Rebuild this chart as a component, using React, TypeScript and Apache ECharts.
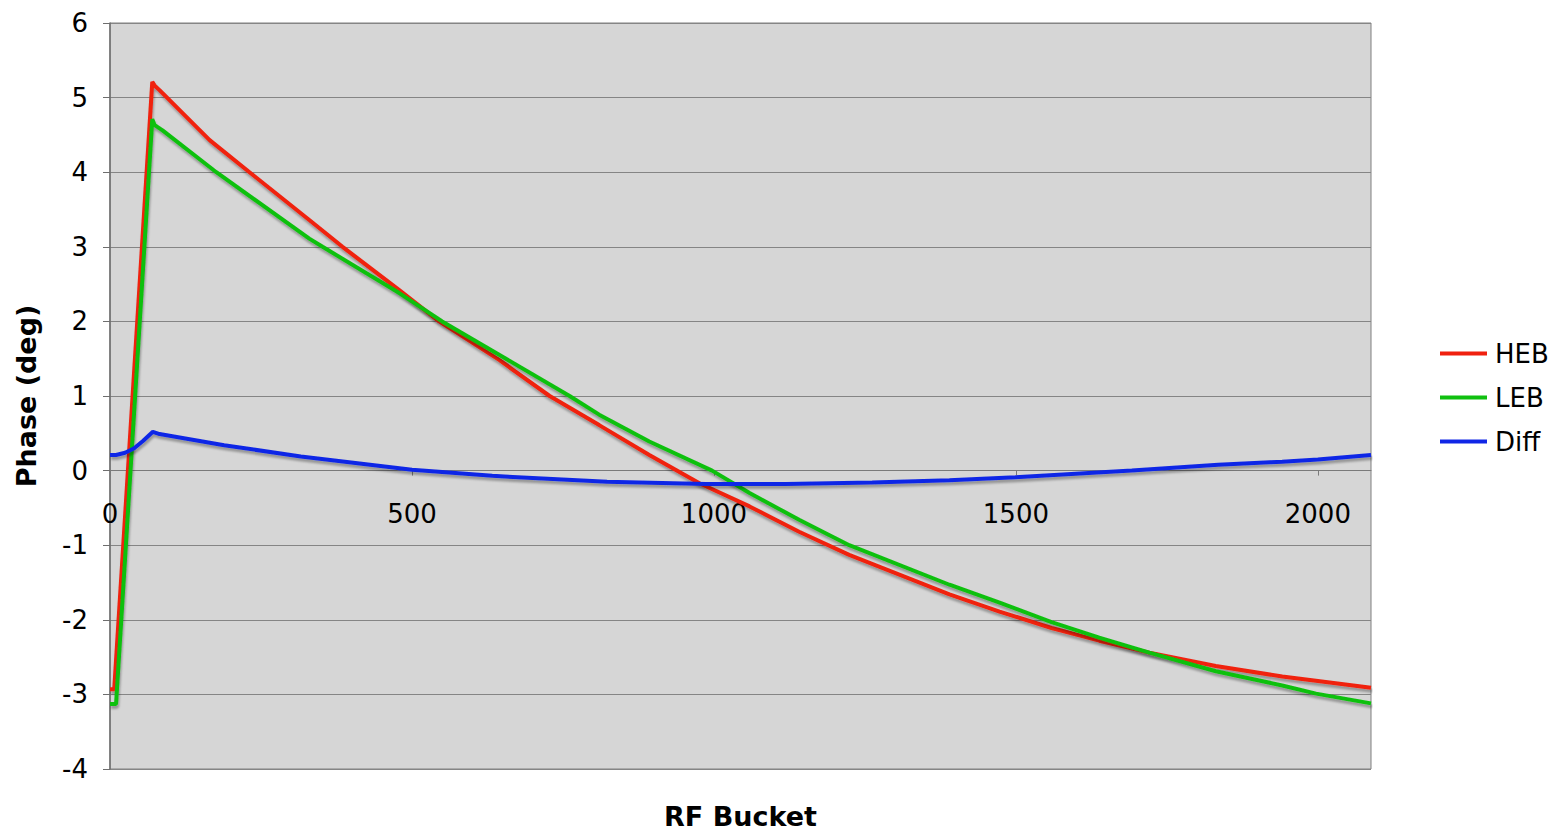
import React, { useEffect, useRef } from "react";
import * as echarts from "echarts";

const hebBuckets = [0, 7, 70, 74, 82, 165, 231, 330, 385, 479, 545, 645, 728, 810, 893, 976, 1059, 1141, 1224, 1390, 1473, 1559, 1638, 1721, 1831, 1941, 2000, 2088];
const hebValues = [-2.93, -2.93, 5.21, 5.16, 5.10, 4.43, 4.00, 3.36, 3.00, 2.42, 2.00, 1.48, 1.00, 0.61, 0.21, -0.17, -0.48, -0.82, -1.13, -1.66, -1.89, -2.11, -2.28, -2.44, -2.62, -2.76, -2.82, -2.91];

const lebBuckets = [0, 10, 70, 74, 87, 165, 176, 330, 352, 479, 550, 645, 761, 810, 893, 997, 1059, 1141, 1224, 1390, 1473, 1559, 1638, 1721, 1831, 1941, 1997, 2088];
const lebValues = [-3.13, -3.13, 4.71, 4.63, 4.56, 4.07, 4.00, 3.11, 3.00, 2.38, 2.00, 1.55, 1.00, 0.75, 0.39, 0.00, -0.30, -0.66, -1.00, -1.53, -1.77, -2.03, -2.24, -2.44, -2.69, -2.88, -2.99, -3.12];

const diffBuckets = [0, 10, 25, 40, 55, 71, 82, 189, 316, 500, 633, 823, 987, 1119, 1262, 1390, 1499, 1692, 1835, 1941, 2000, 2088];
const diffValues = [0.21, 0.21, 0.24, 0.30, 0.40, 0.52, 0.49, 0.34, 0.19, 0.01, -0.07, -0.15, -0.18, -0.18, -0.16, -0.13, -0.09, 0.00, 0.08, 0.12, 0.15, 0.21];

const seriesNames = ["HEB", "LEB", "Diff"];
const seriesColors = ["#f0200f", "#10c010", "#1026e6"];

const xMin = 0;
const xMax = 2088;
const xInterval = 500;
const yMin = -4;
const yMax = 6;
const yInterval = 1;

const FONT = "DejaVu Sans";

const GRID_TOP = 23;
const GRID_BOTTOM = 64;
const CHART_H = 833;

function pairs(xs: number[], ys: number[]) {
  return xs.map((x, i) => [x, ys[i]]);
}

export default function App() {
  const ref = useRef<HTMLDivElement>(null);
  useEffect(() => {
    if (!ref.current) return;
    const chart = echarts.init(ref.current, undefined, { renderer: "svg" });
    const datasets = [
      pairs(hebBuckets, hebValues),
      pairs(lebBuckets, lebValues),
      pairs(diffBuckets, diffValues),
    ];
    // shift the x axis from the bottom of the grid up to the y = 0 line
    const gridH = CHART_H - GRID_TOP - GRID_BOTTOM;
    const zeroFromBottom = (gridH * (0 - yMin)) / (yMax - yMin);
    chart.setOption({
      animation: false,
      backgroundColor: "#ffffff",
      textStyle: { fontFamily: FONT },
      grid: {
        left: 110,
        right: 184,
        top: GRID_TOP,
        bottom: GRID_BOTTOM,
        show: true,
        backgroundColor: "#d6d6d6",
        borderColor: "#808080",
        borderWidth: 1,
        containLabel: false,
        outerBoundsMode: "none",
      },
      legend: {
        orient: "vertical",
        left: 1440,
        top: 340,
        padding: 0,
        icon: "rect",
        itemWidth: 47,
        itemHeight: 4,
        itemGap: 17,
        data: seriesNames,
        textStyle: { fontFamily: FONT, fontSize: 26, color: "#000", lineHeight: 27, padding: [0, 0, 0, 3] },
      },
      xAxis: {
        type: "value",
        min: xMin,
        max: xMax,
        interval: xInterval,
        position: "bottom",
        offset: -zeroFromBottom,
        name: "RF Bucket",
        nameLocation: "middle",
        nameGap: 332,
        nameTextStyle: { fontFamily: FONT, fontSize: 27, fontWeight: "bold", color: "#000" },
        axisLine: { onZero: false, lineStyle: { color: "#7a7a7a", width: 1 } },
        axisTick: { show: true, length: 5, lineStyle: { color: "#7a7a7a" } },
        axisLabel: {
          margin: 30,
          fontFamily: FONT,
          fontSize: 26,
          color: "#000",
          showMaxLabel: false,
          formatter: (v: number) => (v % xInterval === 0 ? String(v) : ""),
        },
        splitLine: { show: false },
      },
      yAxis: {
        type: "value",
        min: yMin,
        max: yMax,
        interval: yInterval,
        name: "Phase (deg)",
        nameLocation: "middle",
        nameGap: 70,
        nameTextStyle: { fontFamily: FONT, fontSize: 27, fontWeight: "bold", color: "#000" },
        axisLine: { show: true, onZero: false, lineStyle: { color: "#6e6e6e", width: 1.5 } },
        axisTick: { show: true, length: 7, lineStyle: { color: "#6e6e6e" } },
        axisLabel: { margin: 22, fontFamily: FONT, fontSize: 26, color: "#000" },
        splitLine: { show: true, lineStyle: { color: "#858585", width: 1 } },
      },
      series: seriesNames.map((name, i) => ({
        name,
        type: "line",
        data: datasets[i],
        symbol: "none",
        smooth: false,
        color: seriesColors[i],
        itemStyle: { color: seriesColors[i] },
        lineStyle: {
          color: seriesColors[i],
          width: 4,
          shadowColor: "rgba(0,0,0,0.3)",
          shadowBlur: 2,
          shadowOffsetX: 1,
          shadowOffsetY: 3,
        },
        z: 2 + i,
      })),
    });
    return () => chart.dispose();
  }, []);
  return (
    <div
      ref={ref}
      style={{ position: "fixed", left: 0, top: 0, width: 1555, height: CHART_H, background: "#fff" }}
    />
  );
}
